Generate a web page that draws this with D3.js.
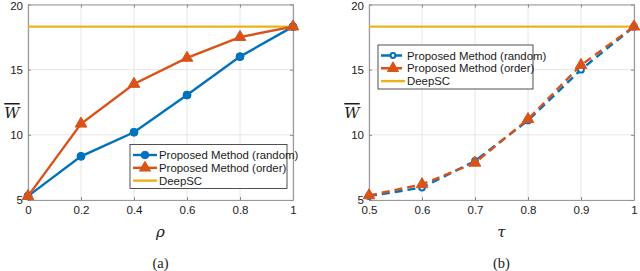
<!DOCTYPE html>
<html>
<head>
<meta charset="utf-8">
<script src="https://cdn.jsdelivr.net/npm/d3@7"></script>
<style>
  body { margin: 0; background: #fff; }
  svg { display: block; }
  .tick text { font-family: "Liberation Sans", Arial, sans-serif; font-size: 11.5px; fill: #1a1a1a; }
  .lbl { font-family: "DejaVu Serif", "Liberation Serif", serif; font-style: italic; fill: #1a1a1a; }
  .cap { font-family: "Liberation Serif", "Times New Roman", serif; font-size: 14.5px; fill: #1a1a1a; }
  .leg text { font-family: "Liberation Sans", Arial, sans-serif; font-size: 11.4px; fill: #1a1a1a; }
</style>
</head>
<body>
<svg width="640" height="271"></svg>
<script>
// panel (a): vs rho
var rho = [0, 0.2, 0.4, 0.6, 0.8, 1];
var rhoRandom = [5.3, 8.35, 10.2, 13.05, 16.0, 18.3];
var rhoOrder = [5.3, 10.85, 13.9, 15.9, 17.5, 18.3];
// panel (b): vs tau
var tau = [0.5, 0.6, 0.7, 0.8, 0.9, 1];
var tauRandom = [5.3, 5.95, 8.0, 11.1, 15.0, 18.3];
var tauOrder = [5.35, 6.2, 7.85, 11.2, 15.35, 18.3];
var deepSC = 18.3;
var yTicks = [5, 10, 15, 20];
var names = ["Proposed Method (random)", "Proposed Method (order)", "DeepSC"];

var blue = "#0072BD", orange = "#D95319", yellow = "#EDB120";
var svg = d3.select("svg");

function panel(opt) {
  var x = d3.scaleLinear().domain(opt.xdom).range([opt.x0, opt.x1]);
  var y = d3.scaleLinear().domain([5, 20]).range([200, 4.5]);
  var g = svg.append("g");

  // grid
  g.append("g").selectAll("line").data(opt.xs).enter().append("line")
    .attr("x1", d => x(d)).attr("x2", d => x(d)).attr("y1", y(5)).attr("y2", y(20))
    .attr("stroke", "#e6e6e6");
  g.append("g").selectAll("line").data(yTicks).enter().append("line")
    .attr("x1", opt.x0).attr("x2", opt.x1).attr("y1", d => y(d)).attr("y2", d => y(d))
    .attr("stroke", "#e6e6e6");

  // axes
  g.append("g").attr("transform", "translate(0,200)")
    .call(d3.axisBottom(x).tickValues(opt.xs).tickFormat(d => d3.format("")(+d.toFixed(1))).tickSizeInner(-3).tickSizeOuter(0).tickPadding(6));
  g.append("g").attr("transform", "translate(0,4.5)")
    .call(d3.axisTop(x).tickValues(opt.xs).tickFormat("").tickSizeInner(-3).tickSizeOuter(0));
  g.append("g").attr("transform", "translate(" + opt.x0 + ",0)")
    .call(d3.axisLeft(y).tickValues(yTicks).tickSizeInner(-3).tickSizeOuter(0).tickPadding(5))
    .selectAll(".tick text").attr("dy", d => d === 20 ? "0.45em" : "0.32em");
  g.append("g").attr("transform", "translate(" + opt.x1 + ",0)")
    .call(d3.axisRight(y).tickValues(yTicks).tickFormat("").tickSizeInner(-3).tickSizeOuter(0));
  g.selectAll(".domain").attr("stroke", "#9a9a9a").attr("stroke-width", 1.2);
  g.selectAll(".tick line").attr("stroke", "#8a8a8a");

  // DeepSC
  g.append("line").attr("x1", opt.x0).attr("x2", opt.x1)
    .attr("y1", y(deepSC)).attr("y2", y(deepSC))
    .attr("stroke", yellow).attr("stroke-width", 2.4);

  var line = d3.line().x(d => x(d[0])).y(d => y(d[1]));
  var dash = opt.dashed ? "8,5" : null;
  var sets = [
    {vals: opt.random, color: blue, sym: d3.symbolCircle},
    {vals: opt.order, color: orange, sym: d3.symbolTriangle}
  ];
  sets.forEach(function(s) {
    var pts = opt.xs.map((v, i) => [v, s.vals[i]]);
    g.append("path").datum(pts).attr("d", line)
      .attr("fill", "none").attr("stroke", s.color).attr("stroke-width", 2.4)
      .attr("stroke-dasharray", dash);
    var open = opt.dashed && s.sym === d3.symbolCircle;
    g.append("g").selectAll("path").data(pts).enter().append("path")
      .attr("transform", d => "translate(" + x(d[0]) + "," + y(d[1]) + ")")
      .attr("d", d3.symbol().type(s.sym).size(s.sym === d3.symbolCircle ? (open ? 26 : 50) : 58))
      .attr("fill", open ? "#fff" : s.color)
      .attr("stroke", s.color).attr("stroke-width", open ? 2 : 1);
  });

  // labels
  g.append("text").attr("class", "lbl").attr("x", opt.ylx).attr("y", 118)
    .attr("text-anchor", "middle").style("font-size", "15px")
    .style("text-decoration", "overline").text("W");
  g.append("text").attr("class", "lbl").attr("x", (opt.x0 + opt.x1) / 2).attr("y", 237)
    .attr("text-anchor", "middle").style("font-size", "15px").text(opt.xlabel);
  g.append("text").attr("class", "cap").attr("x", (opt.x0 + opt.x1) / 2).attr("y", 268)
    .attr("text-anchor", "middle").text(opt.cap);

  // legend
  var L = opt.leg;
  var leg = g.append("g").attr("class", "leg");
  leg.append("rect").attr("x", L.x).attr("y", L.y).attr("width", L.w).attr("height", 44)
    .attr("fill", "#fff").attr("stroke", "#262626").attr("stroke-width", 0.8);
  var legItems = [
    {c: blue, sym: d3.symbolCircle, dash: dash},
    {c: orange, sym: d3.symbolTriangle, dash: dash},
    {c: yellow, sym: null, dash: null}
  ];
  legItems.forEach(function(it, i) {
    var cy = L.y + 10.5 + i * 12.8;
    leg.append("line").attr("x1", L.x + 3).attr("x2", L.x + 27).attr("y1", cy).attr("y2", cy)
      .attr("stroke", it.c).attr("stroke-width", 2.4).attr("stroke-dasharray", it.dash ? "9,3" : null);
    if (it.sym) {
      var open = opt.dashed && it.sym === d3.symbolCircle;
      leg.append("path").attr("transform", "translate(" + (L.x + 15) + "," + cy + ")")
        .attr("d", d3.symbol().type(it.sym).size(it.sym === d3.symbolCircle ? (open ? 18 : 45) : 55))
        .attr("fill", open ? "#fff" : it.c)
        .attr("stroke", it.c).attr("stroke-width", open ? 2 : 1);
    }
    leg.append("text").attr("x", L.x + 29).attr("y", cy + 4).text(names[i]);
  });
}

panel({xs: rho, xdom: [0, 1], x0: 28, x1: 293, random: rhoRandom, order: rhoOrder,
  dashed: false, xlabel: "\u03C1", cap: "(a)", ylx: 12,
  leg: {x: 130, y: 144.5, w: 157}});
panel({xs: tau, xdom: [0.5, 1], x0: 369, x1: 634, random: tauRandom, order: tauOrder,
  dashed: true, xlabel: "\u03C4", cap: "(b)", ylx: 352,
  leg: {x: 378, y: 45, w: 155}});
</script>
</body>
</html>
